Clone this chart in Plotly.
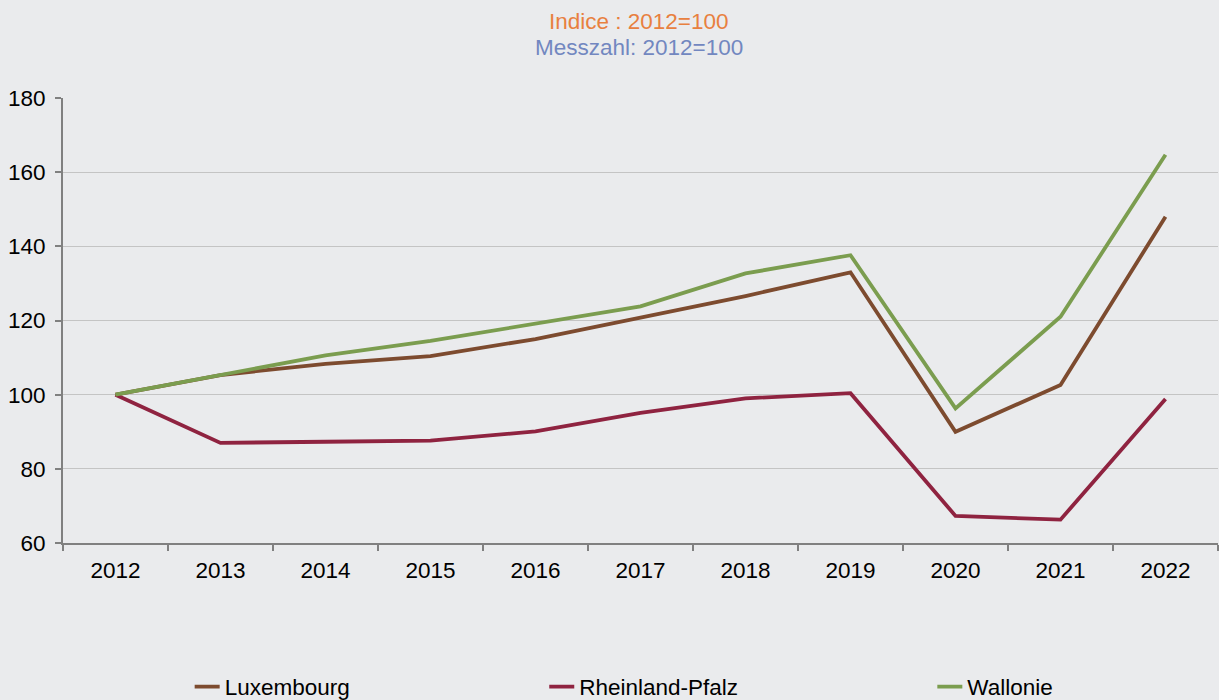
import plotly.graph_objects as go

years = ["2012", "2013", "2014", "2015", "2016", "2017", "2018", "2019", "2020", "2021", "2022"]
luxembourg = [100, 105.3, 108.3, 110.4, 115.0, 120.7, 126.6, 133.0, 90.0, 102.6, 148.0]
rheinland_pfalz = [100, 87.0, 87.3, 87.6, 90.1, 95.1, 99.0, 100.4, 67.3, 66.3, 98.8]
wallonie = [100, 105.2, 110.6, 114.5, 119.2, 123.8, 132.7, 137.6, 96.3, 121.0, 164.7]

series = [
    ("Luxembourg", luxembourg, "#7D4B2F", "legend"),
    ("Rheinland-Pfalz", rheinland_pfalz, "#8F2340", "legend2"),
    ("Wallonie", wallonie, "#7B9D4F", "legend3"),
]

fig = go.Figure()
for name, vals, col, lg in series:
    fig.add_trace(go.Scatter(x=years, y=vals, name=name, mode="lines",
                             line=dict(color=col, width=3.8), legend=lg))

FS = 22.5
font = dict(family="Liberation Sans, Arial, sans-serif", size=FS, color="#000000")
bg = "#EAEBED"

def leg(x):
    return dict(x=x, y=1 - 687 / 700, xref="paper", yref="container",
                xanchor="left", yanchor="middle", orientation="h",
                bgcolor="rgba(0,0,0,0)", font=font, itemwidth=30,
                tracegroupgap=0, indentation=-10)

fig.update_layout(
    width=1219, height=700,
    paper_bgcolor=bg, plot_bgcolor=bg,
    margin=dict(l=63, r=1, t=98, b=157),
    font=font,
    showlegend=True,
    legend=leg(0.114),
    legend2=leg(0.421),
    legend3=leg(0.757),
    xaxis=dict(type="category", tickson="boundaries", ticks="outside", ticklen=6,
               tickcolor="#808080", tickwidth=1.5, showline=True, linecolor="#808080",
               linewidth=2, showgrid=False, tickfont=font, range=[-0.5, 10.5],
               ticklabelstandoff=6, automargin=False),
    yaxis=dict(range=[60, 180], dtick=20, ticks="outside", ticklen=6,
               tickcolor="#808080", tickwidth=1.5, showline=True, linecolor="#808080",
               linewidth=2, showgrid=True, gridcolor="#C4C4C4", gridwidth=1,
               zeroline=False, tickfont=font, ticklabelstandoff=5, automargin=False),
    annotations=[
        dict(text="Indice : 2012=100", x=0.525, y=21, xref="paper", yref="paper",
             showarrow=False, font=dict(family=font["family"], size=FS, color="#E8803F")),
        dict(text="Messzahl: 2012=100", x=0.525, y=47, xref="paper", yref="paper",
             showarrow=False, font=dict(family=font["family"], size=FS, color="#7287C0")),
    ],
)
plot_h = 700 - 98 - 157
for a in fig.layout.annotations:
    ypix = a.y
    a.y = 1 + (98 - ypix) / plot_h
    a.yanchor = "middle"
    a.xanchor = "center"
    a.x = (639 - 63) / 1155

fig.write_html("out.html", config={"displayModeBar": False},
               post_script="document.body.style.margin='0';document.body.style.overflow='hidden';")
